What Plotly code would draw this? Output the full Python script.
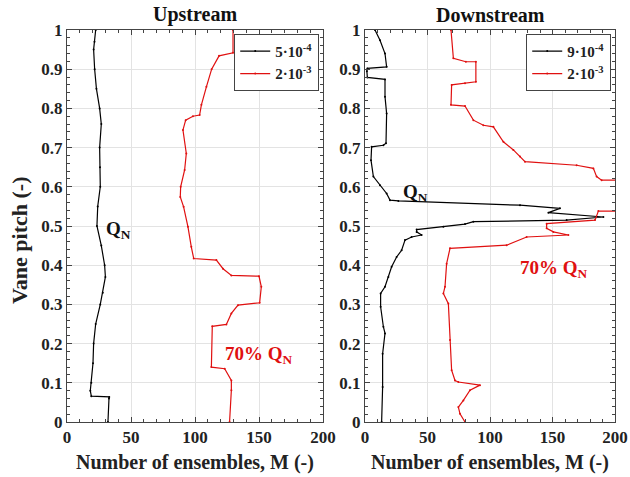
import plotly.graph_objects as go

# Upstream, Q_N (5e-4)
up_qn_x = [22.4, 21.5, 20.8, 21.6, 23.0, 25.5, 26.8, 25.5, 25.8, 26.0, 24.0, 23.4, 26.8, 29.4, 30.0, 28.0, 26.0, 22.4, 20.8, 20.3, 19.0, 18.2, 19.0, 33.0, 32.8, 32.0]
up_qn_y = [1.0, 0.97, 0.95, 0.9, 0.85, 0.8, 0.76, 0.7, 0.65, 0.6, 0.55, 0.5, 0.45, 0.4, 0.37, 0.33, 0.3, 0.25, 0.2, 0.15, 0.1, 0.08, 0.066, 0.064, 0.06, 0.0]
# Upstream, 70% Q_N (2e-3)
up_70_x = [129.7, 129.7, 118.8, 113.0, 108.9, 105.0, 103.6, 98.4, 92.7, 90.6, 93.2, 91.9, 88.8, 88.5, 91.1, 94.5, 97.1, 99.0, 116.7, 121.9, 128.4, 150.0, 151.8, 150.5, 133.6, 128.4, 124.5, 113.5, 112.8, 123.2, 128.4, 128.4, 127.0]
up_70_y = [1.0, 0.942, 0.934, 0.9, 0.855, 0.809, 0.783, 0.780, 0.770, 0.745, 0.685, 0.643, 0.600, 0.574, 0.549, 0.498, 0.447, 0.417, 0.413, 0.391, 0.374, 0.372, 0.345, 0.304, 0.298, 0.277, 0.249, 0.244, 0.140, 0.136, 0.106, 0.081, 0.0]

# Downstream, Q_N (9e-4)
dn_qn_x = [8.0, 12.0, 16.0, 17.3, 1.9, 1.5, 1.9, 16.0, 16.0, 17.3, 16.8, 14.7, 5.3, 4.8, 6.7, 12.0, 17.3, 20.0, 26.7, 124.0, 156.0, 146.7, 190.7, 161.3, 86.7, 80.0, 62.7, 41.3, 41.3, 45.3, 37.3, 32.0, 29.3, 25.3, 21.3, 18.7, 16.0, 12.5, 12.5, 14.7, 16.0, 14.1, 14.1, 13.3]
dn_qn_y = [1.0, 0.974, 0.94, 0.906, 0.902, 0.895, 0.879, 0.874, 0.83, 0.787, 0.711, 0.706, 0.702, 0.668, 0.626, 0.604, 0.583, 0.566, 0.564, 0.553, 0.545, 0.534, 0.523, 0.515, 0.511, 0.505, 0.498, 0.491, 0.485, 0.477, 0.472, 0.464, 0.438, 0.421, 0.396, 0.370, 0.345, 0.328, 0.294, 0.243, 0.226, 0.174, 0.089, 0.0]
# Downstream, 70% Q_N (2e-3)
dn_70_x = [68.8, 70.7, 80.7, 88.7, 88.7, 80.0, 69.3, 68.8, 80.0, 86.7, 94.7, 102.7, 110.7, 118.7, 124.0, 128.0, 169.3, 182.7, 185.3, 189.3, 215.0, 215.0, 186.7, 184.0, 145.3, 145.3, 150.7, 162.7, 129.3, 113.3, 68.0, 65.3, 64.0, 62.7, 66.7, 68.0, 69.3, 72.0, 74.7, 92.0, 84.0, 78.7, 74.7, 76.0, 80.0]
dn_70_y = [1.0, 0.928, 0.919, 0.919, 0.868, 0.864, 0.860, 0.809, 0.806, 0.770, 0.757, 0.753, 0.715, 0.694, 0.677, 0.664, 0.655, 0.647, 0.626, 0.617, 0.617, 0.538, 0.538, 0.515, 0.506, 0.494, 0.485, 0.477, 0.472, 0.451, 0.443, 0.404, 0.345, 0.328, 0.302, 0.209, 0.132, 0.106, 0.102, 0.094, 0.081, 0.055, 0.038, 0.021, 0.0]

titles = ["Upstream", "Downstream"]
legend_up = ["5·10<sup>-4</sup>", "2·10<sup>-3</sup>"]
legend_dn = ["9·10<sup>-4</sup>", "2·10<sup>-3</sup>"]
x_ticks = [0, 50, 100, 150, 200]
y_ticks = [0, 0.1, 0.2, 0.3, 0.4, 0.5, 0.6, 0.7, 0.8, 0.9, 1]

FONT = "Liberation Serif"
RED = "#e01010"
W, H = 630, 477
fig = go.Figure()

def add(x, y, name, color, xa, ya, leg):
    fig.add_trace(go.Scatter(x=x, y=y, name=name, mode="lines+markers",
                             line=dict(color=color, width=1.2),
                             marker=dict(color=color, size=2),
                             xaxis=xa, yaxis=ya, legend=leg))

add(up_qn_x, up_qn_y, legend_up[0], "black", "x", "y", "legend")
add(up_70_x, up_70_y, legend_up[1], RED, "x", "y", "legend")
add(dn_qn_x, dn_qn_y, legend_dn[0], "black", "x2", "y2", "legend2")
add(dn_70_x, dn_70_y, legend_dn[1], RED, "x2", "y2", "legend2")

L = [67, 323]
R = [365, 615]
top, bot = 30, 422
xd1 = [L[0] / W, L[1] / W]
xd2 = [R[0] / W, R[1] / W]
yd = [(H - bot) / H, (H - top) / H]

tickfont = dict(family=FONT, size=17, color="#222", weight="bold")
ax_common = dict(showline=True, linecolor="#444", linewidth=1, mirror="ticks",
                 ticks="inside", ticklen=5, tickcolor="#444", automargin=False,
                 showgrid=True, gridcolor="#e3e3e3", gridwidth=1,
                 zeroline=False, tickfont=tickfont)
xminor = dict(dtick=10, ticks="inside", ticklen=3, tickcolor="#444", showgrid=False)
yminor = dict(dtick=0.02, ticks="inside", ticklen=3, tickcolor="#444", showgrid=False)
legfont = dict(family=FONT, size=15, color="#222", weight="bold")
fig.update_layout(
    xaxis=dict(domain=xd1, range=[0, 200], tickvals=x_ticks, anchor="y", minor=xminor, **ax_common),
    yaxis=dict(domain=yd, range=[0, 1], tickvals=y_ticks, anchor="x", minor=yminor, **ax_common),
    xaxis2=dict(domain=xd2, range=[0, 200], tickvals=x_ticks, anchor="y2", minor=xminor, **ax_common),
    yaxis2=dict(domain=yd, range=[0, 1], tickvals=y_ticks, anchor="x2", minor=yminor, **ax_common),
    width=W, height=H, margin=dict(l=0, r=0, t=0, b=0, autoexpand=False),
    plot_bgcolor="white", paper_bgcolor="white",
    legend=dict(x=L[1] / W - 0.006, y=(H - top) / H - 0.008, xanchor="right", yanchor="top",
                bordercolor="#444", borderwidth=1, bgcolor="white", font=legfont,
                tracegroupgap=0, itemwidth=30),
    legend2=dict(x=R[1] / W - 0.006, y=(H - top) / H - 0.008, xanchor="right", yanchor="top",
                 bordercolor="#444", borderwidth=1, bgcolor="white", font=legfont,
                 tracegroupgap=0, itemwidth=30),
)

anns = []
for t, xd in zip(titles, [xd1, xd2]):
    anns.append(dict(text="<b>%s</b>" % t, x=(xd[0] + xd[1]) / 2, y=1 - 15 / H, xref="paper", yref="paper",
                     showarrow=False, xanchor="center", yanchor="middle",
                     font=dict(family=FONT, size=20, color="#111")))
    anns.append(dict(text="<b>Number of ensembles, M (-)</b>", x=(xd[0] + xd[1]) / 2, y=1 - 462 / H,
                     xref="paper", yref="paper", showarrow=False, xanchor="center", yanchor="middle",
                     font=dict(family=FONT, size=20, color="#222")))
anns.append(dict(text="<b>Vane pitch (-)</b>", x=19 / W, y=1 - 240 / H, xref="paper", yref="paper",
                 showarrow=False, textangle=-90, xanchor="center", yanchor="middle",
                 font=dict(family=FONT, size=22, color="#222")))
anns.append(dict(text="<b>Q<sub>N</sub></b>", x=40, y=0.49, xref="x", yref="y", showarrow=False,
                 xanchor="center", font=dict(family=FONT, size=19, color="#111")))
anns.append(dict(text="<b>70% Q<sub>N</sub></b>", x=150, y=0.17, xref="x", yref="y", showarrow=False,
                 xanchor="center", font=dict(family=FONT, size=19, color=RED)))
anns.append(dict(text="<b>Q<sub>N</sub></b>", x=40, y=0.585, xref="x2", yref="y2", showarrow=False,
                 xanchor="center", font=dict(family=FONT, size=19, color="#111")))
anns.append(dict(text="<b>70% Q<sub>N</sub></b>", x=151, y=0.39, xref="x2", yref="y2", showarrow=False,
                 xanchor="center", font=dict(family=FONT, size=19, color=RED)))
fig.update_layout(annotations=anns)

fig.write_html("out.html")
